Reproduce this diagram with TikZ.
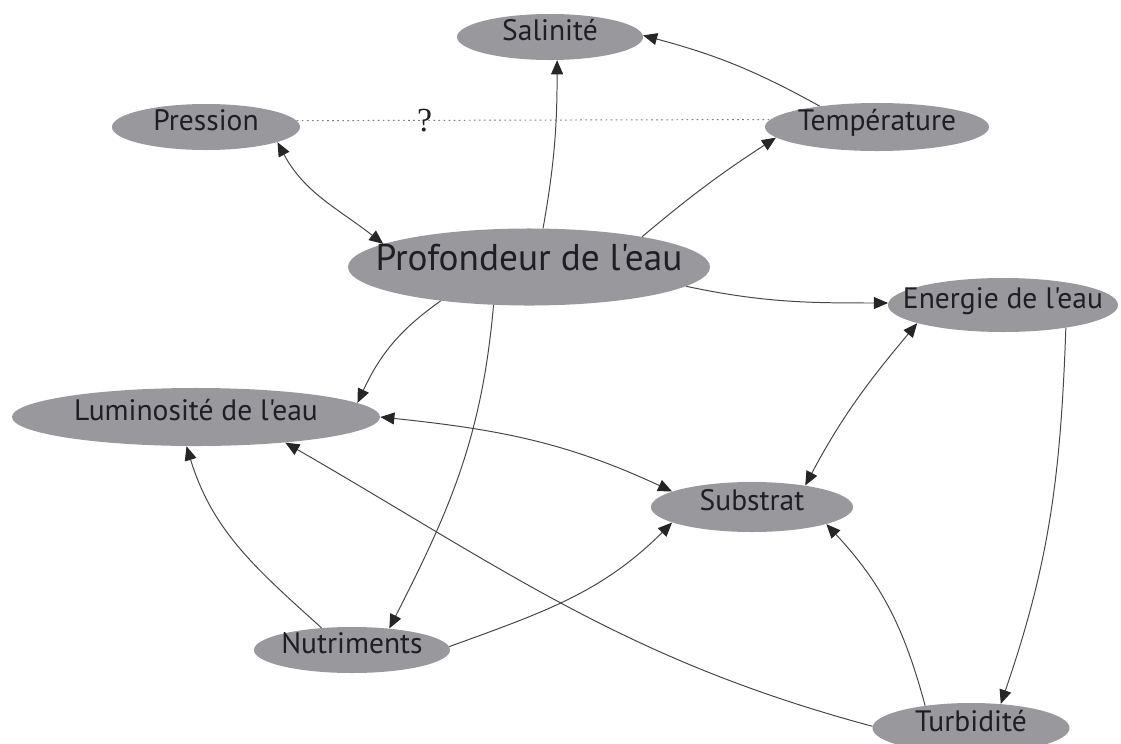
\documentclass[tikz,border=0pt]{standalone}
\usepackage{fontspec}
\setmainfont{PT Sans}[Ligatures=TeXOff]
\newfontfamily\qfont{Liberation Serif}
\usetikzlibrary{arrows.meta,shapes.geometric}
\definecolor{nodegray}{RGB}{152,152,157}
\definecolor{textgray}{RGB}{30,30,36}
\definecolor{linegray}{RGB}{70,70,72}
\newcommand{\ctr}[1]{\makebox[0pt]{#1}}

\begin{document}
\begin{tikzpicture}[x=0.025cm,y=-0.025cm,>={Triangle[length=10pt,width=8.5pt,color=black!85]},font=\fontsize{21}{25}\selectfont]
\tikzstyle{v}=[ellipse,fill=nodegray,text=textgray,inner sep=0pt,text height=0.7em,text depth=0.2em]
\tikzstyle{e}=[draw=linegray,line width=0.7pt]
\useasboundingbox (0,0) rectangle (1121,744);
% variables
\node[v,minimum width=4.65cm,minimum height=1.15cm] (sal) at (550,37) {\ctr{Salinité}};
\node[v,minimum width=4.7cm,minimum height=1.15cm] (pres) at (206,127) {\ctr{Pression}};
\node[v,minimum width=5.6cm,minimum height=1.2cm] (temp) at (877,127) {\ctr{Température}};
\node[v,minimum width=9.05cm,minimum height=1.925cm,font=\fontsize{26.5}{30}\selectfont] (prof) at (529,267) {\ctr{Profondeur de l'eau}};
\node[v,minimum width=5.75cm,minimum height=1.35cm] (ener) at (1003,305) {\ctr{Energie de l'eau}};
\node[v,minimum width=9.2cm,minimum height=1.45cm] (lum) at (196,417) {\ctr{Luminosité de l'eau}};
\node[v,minimum width=5.05cm,minimum height=1.25cm] (subs) at (752,507) {\ctr{Substrat}};
\node[v,minimum width=4.9cm,minimum height=1.15cm] (nutr) at (352,650) {\ctr{Nutriments}};
\node[v,minimum width=4.925cm,minimum height=1.25cm] (turb) at (971,728) {\ctr{Turbidité}};
% links
\draw[e,dash pattern=on 1.2pt off 2.4pt,draw=linegray!70] (pres.4) -- node[pos=0.27,text=textgray,font=\qfont\fontsize{24}{24}\selectfont]{?} (temp.176);
\draw[e,->] (temp.160) to[out=151,in=-15] (sal.1);
\draw[e,->] (prof.70) to[out=80,in=-90] (sal.-73);
\draw[e,->] (prof.15) to[out=40,in=-147] (temp.186);
\draw[e,<->] (pres.-12) to[out=-62,in=142] (prof.171);
\draw[e,->] (prof.-7) to[out=-12,in=180] (ener.179);
\draw[e,->] (prof.201) to[out=215,in=65] (lum.5);
\draw[e,->] (prof.227) to[out=265,in=63] (nutr.30);
\draw[e,<->] (ener.192) to[out=230,in=62] (subs.22);
\draw[e,->] (ener.-20) to[out=268,in=71] (turb.39);
\draw[e,<->] (lum.0) to[out=-6,in=155] (subs.169);
\draw[e,->] (nutr.144) to[out=138,in=-73] (lum.252);
\draw[e,->] (nutr.2) to[out=20,in=225] (subs.191);
\draw[e,->] (turb.154) to[out=105,in=-47] (subs.-13);
\draw[e,->] (turb.179) to[out=165,in=-30] (lum.-16);
\end{tikzpicture}
\end{document}
